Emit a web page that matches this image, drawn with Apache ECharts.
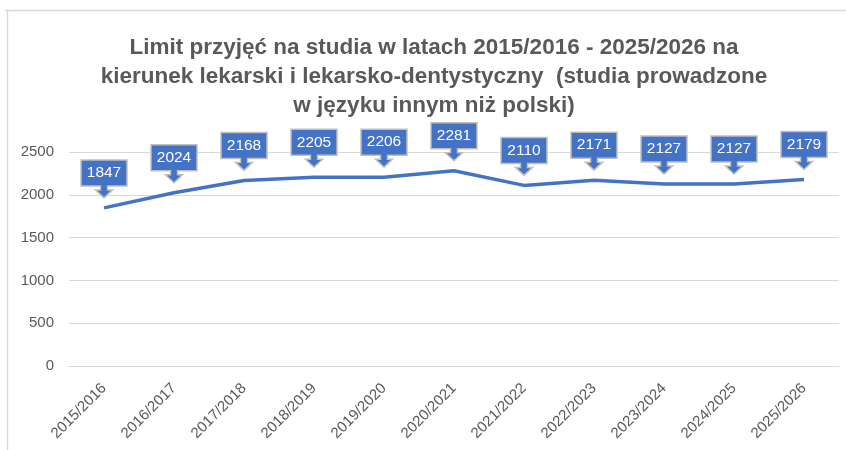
<!DOCTYPE html>
<html><head><meta charset="utf-8">
<script src="https://cdn.jsdelivr.net/npm/echarts@6/dist/echarts.min.js"></script>
<style>html,body{margin:0;padding:0;background:#fff}#c{width:846px;height:450px}</style>
</head><body><div id="c"></div>
<script>
const categories = ['2015/2016','2016/2017','2017/2018','2018/2019','2019/2020','2020/2021','2021/2022','2022/2023','2023/2024','2024/2025','2025/2026'];
const values = [1847,2024,2168,2205,2206,2281,2110,2171,2127,2127,2179];
const yTicks = [0,500,1000,1500,2000,2500];
const titleLines = ['Limit przyjęć na studia w latach 2015/2016 - 2025/2026 na','kierunek lekarski i lekarsko-dentystyczny  (studia prowadzone','w języku innym niż polski)'];

const chart = echarts.init(document.getElementById('c'), null, {renderer:'canvas'});
const BLUE = '#4472C4';
chart.setOption({
  animation:false,
  backgroundColor:'#fff',
  title:{
    text:titleLines.join('\n'), left:429, top:28, textAlign:'center',
    textStyle:{fontFamily:'Liberation Sans', fontSize:22.5, fontWeight:'bold', color:'#595959', lineHeight:29}
  },
  graphic:[
    {type:'line', shape:{x1:5,y1:10.5,x2:846,y2:10.5}, style:{stroke:'#d9d9d9', lineWidth:1.5}},
    {type:'line', shape:{x1:7.5,y1:10,x2:7.5,y2:450}, style:{stroke:'#d9d9d9', lineWidth:1.5}}
  ],
  grid:{left:69, right:7, top:152, bottom:84},
  xAxis:{
    type:'category', data:categories, boundaryGap:true,
    axisLine:{show:true, lineStyle:{color:'#d9d9d9'}}, axisTick:{show:false},
    axisLabel:{rotate:45, color:'#595959', fontSize:15, fontFamily:'Liberation Sans', margin:20, interval:0}
  },
  yAxis:{
    type:'value', min:yTicks[0], max:yTicks[yTicks.length-1], interval:500,
    axisLine:{show:false}, axisTick:{show:false},
    splitLine:{lineStyle:{color:'#d9d9d9', width:1}},
    axisLabel:{color:'#595959', fontSize:15, fontFamily:'Liberation Sans', margin:15, formatter:v=>String(v)}
  },
  series:[
    {type:'line', data:values, symbol:'none', lineStyle:{color:BLUE, width:3.5}, z:2},
    {type:'custom', data:values.map((v,i)=>[i,v]), z:5,
     renderItem:function(params, api){
       const p = api.coord([api.value(0), api.value(1)]);
       const x=p[0], y=p[1];
       const pts = [[0,-10],[-8.5,-18],[-3.5,-18],[-3.5,-22],[-23,-22],[-23,-48],[23,-48],[23,-22],[3.5,-22],[3.5,-18],[8.5,-18]].map(q=>[x+q[0], y+q[1]]);
       return {type:'group', children:[
         {type:'polygon', shape:{points:pts}, style:{fill:BLUE, stroke:'#bfbfbf', lineWidth:1.5}},
         {type:'text', x:x, y:y-35, style:{text:String(api.value(1)), fill:'#fff', font:'15.5px Liberation Sans', align:'center', verticalAlign:'middle'}}
       ]};
     }}
  ]
});
</script></body></html>
